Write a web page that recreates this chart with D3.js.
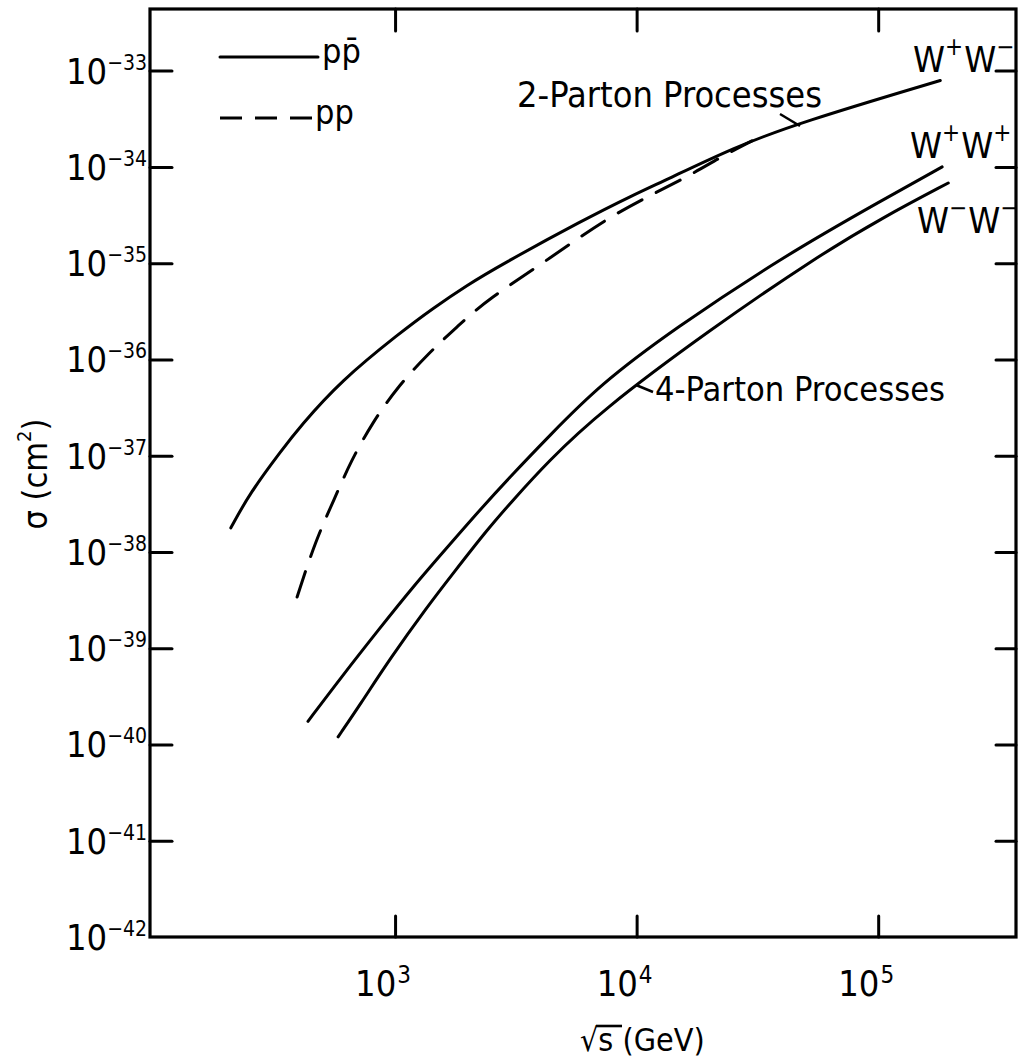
<!DOCTYPE html>
<html>
<head>
<meta charset="utf-8">
<script src="https://cdn.jsdelivr.net/npm/d3@7"></script>
<style>
  html, body { margin: 0; padding: 0; background: #fff; }
  svg { display: block; }
  text { font-family: 'DejaVu Sans Condensed', 'DejaVu Sans', sans-serif; font-stretch: condensed; fill: #000; }
</style>
</head>
<body>
<svg id="chart" width="1018" height="1061"></svg>
<script>
// Cross sections for W pair production versus collider energy.
// sqrt(s) in GeV, sigma in cm^2.

// 2-parton processes, p-pbar (solid)
const ppbarSqrtS = [209, 251, 340, 404, 592, 1050, 1436, 1986, 2723, 6000, 9680, 13370, 25100, 47560, 180700];
const ppbarSigma = [1.78e-38, 4.12e-38, 1.15e-37, 2.0e-37, 5.9e-37, 1.9e-36, 3.4e-36, 5.9e-36, 9.5e-36, 2.8e-35, 5.1e-35, 7.4e-35, 1.58e-34, 2.9e-34, 7.9e-34];

// 2-parton processes, p-p (dashed), joins the p-pbar curve at high energy
const ppSqrtS = [393, 467, 565, 652, 804, 1019, 1357, 1807, 2405, 4385, 8000, 15600, 22180, 30000];
const ppSigma = [3.4e-39, 1.29e-38, 3.7e-38, 8.5e-38, 2.19e-37, 5.1e-37, 1.12e-36, 2.19e-36, 4.17e-36, 1.12e-35, 3.3e-35, 7.4e-35, 1.26e-34, 1.86e-34];

// 4-parton processes, W+W+
const wpwpSqrtS = [436, 592, 867, 1188, 1641, 2248, 3080, 4260, 7060, 14160, 40400, 105000, 184000];
const wpwpSigma = [1.74e-40, 4.82e-40, 1.63e-39, 4.36e-39, 1.11e-38, 2.75e-38, 6.49e-38, 1.52e-37, 5.5e-37, 2.04e-36, 1.17e-35, 4.57e-35, 1.0e-34];

// 4-parton processes, W-W-
const wmwmSqrtS = [581, 716, 953, 1358, 1740, 2404, 3083, 4258, 7062, 20140, 55850, 105000, 195000];
const wmwmSigma = [1.2e-40, 2.59e-40, 7.78e-40, 2.69e-39, 6.0e-39, 1.7e-38, 3.47e-38, 8.5e-38, 2.88e-37, 2.04e-36, 1.17e-35, 3.0e-35, 6.8e-35];

// Axis ticks
const xTickValues = [1e3, 1e4, 1e5];
const xTickExponents = ["3", "4", "5"];
const yTickValues = [1e-33, 1e-34, 1e-35, 1e-36, 1e-37, 1e-38, 1e-39, 1e-40, 1e-41, 1e-42];
const yTickExponents = ["−33", "−34", "−35", "−36", "−37", "−38", "−39", "−40", "−41", "−42"];

const svg = d3.select("#chart");
const frame = { left: 150, right: 1016, top: 9, bottom: 937 };

const x = d3.scaleLog().domain([96.7, 372000]).range([frame.left, frame.right]);
const y = d3.scaleLog().domain([Math.pow(10, -32.36), 1e-42]).range([frame.top, frame.bottom]);

const zip = (a, b) => a.map((v, i) => [v, b[i]]);
const line = d3.line()
  .x(d => x(d[0]))
  .y(d => y(d[1]))
  .curve(d3.curveBasis);

// Frame
svg.append("rect")
  .attr("x", frame.left).attr("y", frame.top)
  .attr("width", frame.right - frame.left).attr("height", frame.bottom - frame.top)
  .attr("fill", "none").attr("stroke", "#000").attr("stroke-width", 3.2);

// Inward ticks on all four sides
function styleAxis(g) {
  g.select(".domain").remove();
  g.selectAll(".tick line").attr("stroke", "#000").attr("stroke-width", 3).attr("stroke-linecap", "round");
  g.selectAll(".tick text").remove();
}
svg.append("g").attr("transform", `translate(0,${frame.bottom})`)
  .call(d3.axisBottom(x).tickValues(xTickValues).tickSize(-21)).call(styleAxis);
svg.append("g").attr("transform", `translate(0,${frame.top})`)
  .call(d3.axisTop(x).tickValues(xTickValues).tickSize(-22)).call(styleAxis);
svg.append("g").attr("transform", `translate(${frame.left},0)`)
  .call(d3.axisLeft(y).tickValues(yTickValues.slice(0, -1)).tickSize(-22)).call(styleAxis);
svg.append("g").attr("transform", `translate(${frame.right},0)`)
  .call(d3.axisRight(y).tickValues(yTickValues.slice(0, -1)).tickSize(-20)).call(styleAxis);

// Tick labels as powers of ten
const yLabels = svg.append("g").selectAll("text")
  .data(yTickValues).join("text")
  .attr("x", frame.left - 3)
  .attr("y", d => y(d) + 13)
  .attr("text-anchor", "end");
yLabels.append("tspan").attr("font-size", 36).text("10");
yLabels.append("tspan").attr("font-size", 21).attr("dy", -14).text((d, i) => yTickExponents[i]);

const xLabels = svg.append("g").selectAll("text")
  .data(xTickValues).join("text")
  .attr("x", d => x(d) - 12)
  .attr("y", 996)
  .attr("text-anchor", "middle");
xLabels.append("tspan").attr("font-size", 36).text("10");
xLabels.append("tspan").attr("font-size", 24).attr("dy", -13).attr("dx", 1).text((d, i) => xTickExponents[i]);

// Axis titles
const xTitle = svg.append("g").attr("transform", "translate(580,1051)");
xTitle.append("text").attr("font-size", 32).text("√s (GeV)");
xTitle.append("line")
  .attr("x1", 16).attr("x2", 42).attr("y1", -25).attr("y2", -25)
  .attr("stroke", "#000").attr("stroke-width", 2.6);

const yTitle = svg.append("text")
  .attr("transform", "translate(47,474) rotate(-90)")
  .attr("text-anchor", "middle")
  .attr("font-size", 34);
yTitle.append("tspan").text("σ (cm");
yTitle.append("tspan").attr("font-size", 20).attr("dy", -16).text("2");
yTitle.append("tspan").attr("dy", 16).text(")");

// Curves
const curves = [
  { data: zip(ppbarSqrtS, ppbarSigma), dash: null },
  { data: zip(ppSqrtS, ppSigma), dash: "27,16" },
  { data: zip(wpwpSqrtS, wpwpSigma), dash: null },
  { data: zip(wmwmSqrtS, wmwmSigma), dash: null }
];
svg.append("g").selectAll("path")
  .data(curves).join("path")
  .attr("d", d => line(d.data))
  .attr("fill", "none")
  .attr("stroke", "#000")
  .attr("stroke-width", 3)
  .attr("stroke-linecap", "round")
  .attr("stroke-dasharray", d => d.dash);

// Legend
const legend = svg.append("g");
legend.append("line").attr("x1", 220).attr("x2", 318).attr("y1", 57).attr("y2", 57)
  .attr("stroke", "#000").attr("stroke-width", 3).attr("stroke-linecap", "round");
legend.append("text").attr("x", 322).attr("y", 63).attr("font-size", 34).text("pp\u0304");
legend.append("line").attr("x1", 220).attr("x2", 313).attr("y1", 118).attr("y2", 118)
  .attr("stroke", "#000").attr("stroke-width", 3).attr("stroke-dasharray", "22,13");
legend.append("text").attr("x", 315).attr("y", 124).attr("font-size", 34).text("pp");

// Curve annotations
svg.append("text").attr("x", 517).attr("y", 107).attr("font-size", 36)
  .attr("textLength", 305).attr("lengthAdjust", "spacingAndGlyphs")
  .text("2-Parton Processes");
svg.append("line").attr("x1", 780).attr("y1", 114).attr("x2", 800).attr("y2", 126)
  .attr("stroke", "#000").attr("stroke-width", 2.5);

svg.append("text").attr("x", 655).attr("y", 401).attr("font-size", 33)
  .attr("textLength", 290).attr("lengthAdjust", "spacingAndGlyphs")
  .text("4-Parton Processes");
svg.append("line").attr("x1", 636).attr("y1", 385).attr("x2", 653).attr("y2", 392)
  .attr("stroke", "#000").attr("stroke-width", 2.5);

function wLabel(xPos, yPos, s1, s2) {
  const t = svg.append("text").attr("x", xPos).attr("y", yPos).attr("font-size", 36);
  t.append("tspan").text("W");
  t.append("tspan").attr("font-size", 24).attr("dy", -17).text(s1);
  t.append("tspan").attr("dy", 17).attr("dx", 1).text("W");
  t.append("tspan").attr("font-size", 24).attr("dy", -17).text(s2);
}
wLabel(913, 72, "+", "−");
wLabel(910, 158, "+", "+");
wLabel(917, 233, "−", "−");
</script>
</body>
</html>
